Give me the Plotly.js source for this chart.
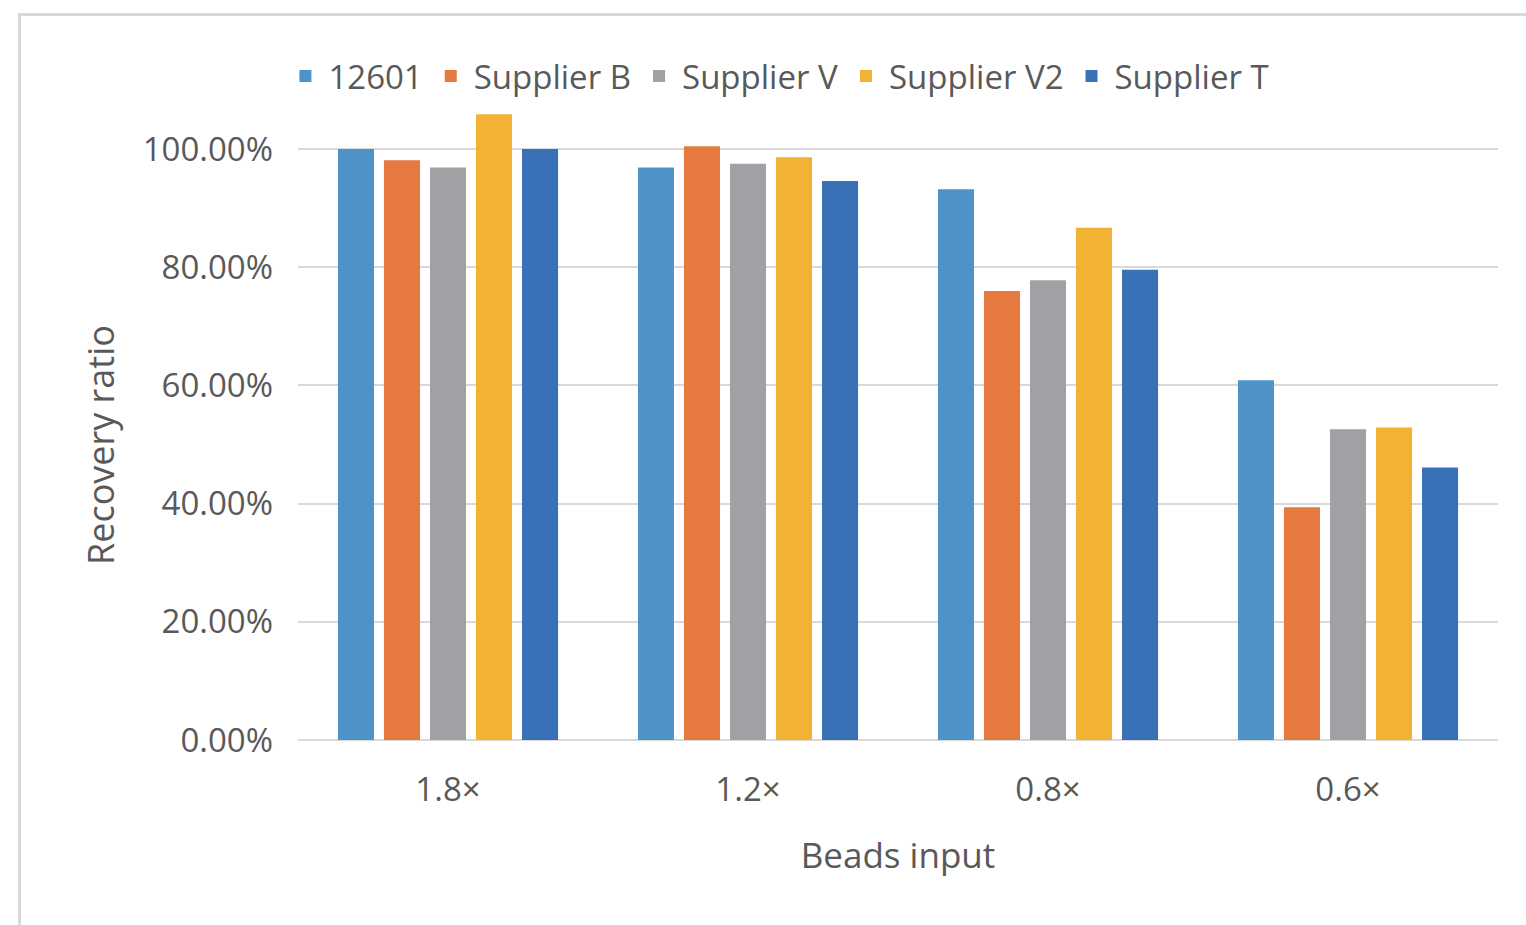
<!DOCTYPE html>
<html>
<head>
<meta charset="utf-8">
<script src="https://cdn.plot.ly/plotly-3.0.1.min.js"></script>
<style>
  html, body { margin: 0; padding: 0; background: #ffffff; }
  #chart { width: 1526px; height: 925px; position: absolute; left: 0; top: 0; }
  #frame { position: absolute; left: 18px; top: 13px; width: 1600px; height: 1000px;
           border-left: 3px solid #d9d9d9; border-top: 3px solid #d9d9d9; pointer-events: none; }
</style>
</head>
<body>
<div id="chart"></div>
<div id="frame"></div>
<script>
const categories = ["1.8×", "1.2×", "0.8×", "0.6×"];
const seriesNames = ["12601", "Supplier B", "Supplier V", "Supplier V2", "Supplier T"];
const s12601 = [1.000, 0.969, 0.932, 0.609];
const supplierB = [0.981, 1.005, 0.760, 0.394];
const supplierV = [0.969, 0.975, 0.778, 0.526];
const supplierV2 = [1.059, 0.986, 0.867, 0.529];
const supplierT = [1.000, 0.946, 0.796, 0.461];
const colors = ["#4E93C8", "#E57940", "#A0A1A5", "#F2B234", "#3A70B8"];
const yTicks = [0, 0.2, 0.4, 0.6, 0.8, 1.0];
const yTickText = ["0.00%", "20.00%", "40.00%", "60.00%", "80.00%", "100.00%"];
const xTitle = "Beads input";
const yTitle = "Recovery ratio";

const values = [s12601, supplierB, supplierV, supplierV2, supplierT];
const traces = values.map((v, i) => ({
  type: "bar",
  name: seriesNames[i],
  x: categories,
  y: v,
  marker: { color: colors[i] },
  hoverinfo: "x+y+name"
}));

const font = "'Open Sans', 'Noto Sans', sans-serif";
const layout = {
  width: 1526, height: 925,
  margin: { l: 298, r: 28, t: 90, b: 185 },
  paper_bgcolor: "#ffffff",
  plot_bgcolor: "#ffffff",
  barmode: "group",
  bargap: 0.233,
  bargroupgap: 0.217,
  font: { family: font, color: "#595959", size: 33 },
  showlegend: true,
  legend: {
    orientation: "h",
    x: -0.013, xanchor: "left",
    y: 1.0215, yanchor: "middle",
    font: { family: font, size: 33, color: "#595959" },
    itemwidth: 36,
    traceorder: "normal",
    bgcolor: "rgba(0,0,0,0)"
  },
  annotations: [{
    text: yTitle,
    xref: "paper", yref: "paper",
    x: -0.165, y: 0.4538,
    xanchor: "center", yanchor: "middle",
    textangle: -90,
    showarrow: false,
    font: { family: font, size: 36, color: "#595959" }
  }],
  xaxis: {
    type: "category",
    showgrid: false,
    showline: false,
    zeroline: false,
    ticks: "",
    ticklabelstandoff: 27,
    tickfont: { family: font, size: 33, color: "#595959" },
    title: { text: xTitle, font: { family: font, size: 35, color: "#595959" }, standoff: 33 },
    automargin: false
  },
  yaxis: {
    range: [0, 1.1],
    tickvals: yTicks,
    ticktext: yTickText,
    showgrid: true,
    gridcolor: "#d9d9d9",
    gridwidth: 2,
    zeroline: true,
    zerolinecolor: "#d9d9d9",
    zerolinewidth: 2,
    showline: false,
    ticks: "",
    ticklabelstandoff: 24,
    tickfont: { family: font, size: 33, color: "#595959" },
    automargin: false
  }
};

Plotly.newPlot("chart", traces, layout, { displayModeBar: false, responsive: false });
</script>
</body>
</html>
